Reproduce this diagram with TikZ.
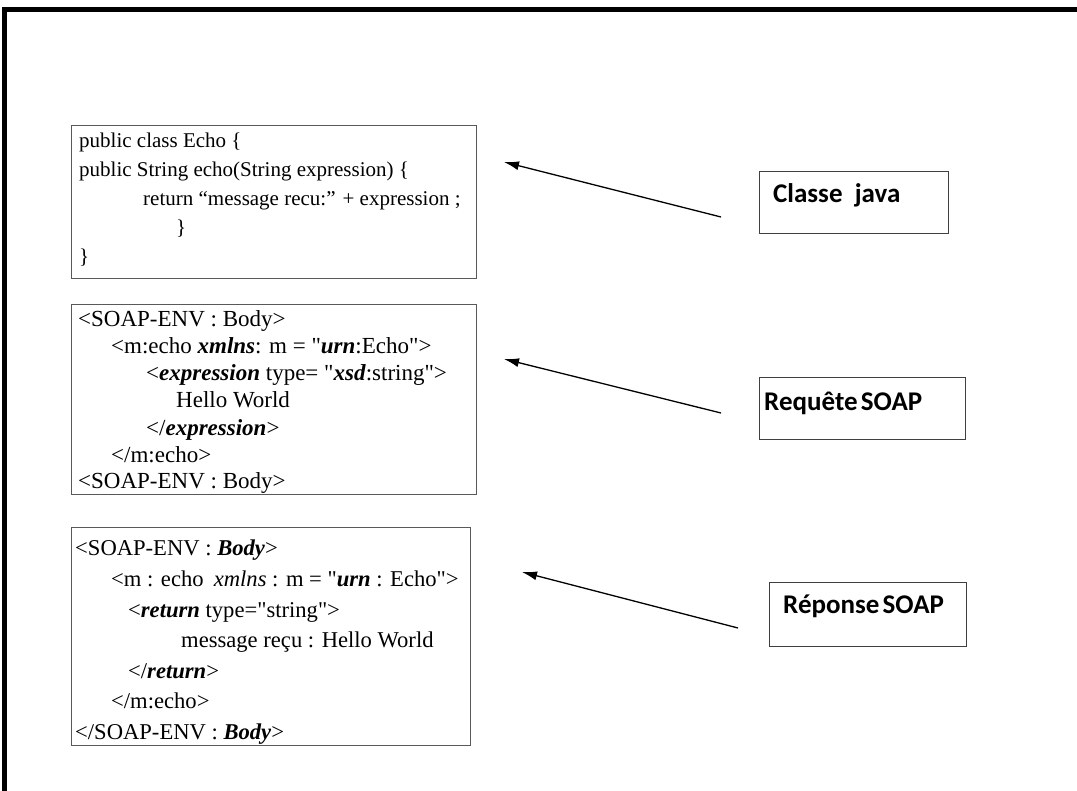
\documentclass[tikz,border=0pt]{standalone}
\usepackage{fontspec}
\setmainfont{Liberation Serif}[Ligatures=TeXOff]
\newfontfamily\labfont{Carlito}
\usetikzlibrary{arrows.meta}
\tikzset{
  codebox/.style={draw=black!65, line width=1.4pt, anchor=north west, inner sep=0pt, rectangle},
  labbox/.style={draw=black!75, line width=1pt, anchor=north west, inner sep=0pt, rectangle},
  codeA/.style={anchor=base west, inner sep=0pt, font=\fontsize{21}{25}\selectfont},
  codeB/.style={anchor=base west, inner sep=0pt, font=\fontsize{23}{27}\selectfont},
  codeC/.style={anchor=base west, inner sep=0pt, font=\fontsize{22.6}{27}\selectfont},
  labtext/.style={anchor=base west, inner sep=0pt, font=\labfont\bfseries\fontsize{27}{32}\selectfont},
  arr/.style={line width=1.3pt, -{Latex[length=15pt,width=9pt]}},
  frameline/.style={line width=4.5pt, line join=miter}
}
\newcommand{\bi}[1]{\textbf{\textit{#1}}}
\newcommand{\qq}{"}
\begin{document}
\begin{tikzpicture}[x=1pt,y=-1pt]
\useasboundingbox (0,0) rectangle (1077,791);
\clip (0,0) rectangle (1077,791);
\fill[white] (0,0) rectangle (1077,791);
% outer frame
\draw[frameline] (1100,9.5) -- (4.5,9.5) -- (4.5,820);

% code box 1
\node[codebox, minimum width=405pt, minimum height=153pt] (java) at (71,125) {};
\node[codeA] (j1) at (79,148) {public class Echo \{};
\node[codeA] (j2) at (79,177) {public String echo(String expression) \{};
\node[codeA] (j3) at (143,206) {return “message recu:” + expression ;};
\node[codeA] (j4) at (176,235) {\}};
\node[codeA] (j5) at (79,264) {\}};

% code box 2
\node[codebox, minimum width=405pt, minimum height=190pt] (req) at (71,304) {};
\node[codeB] (r1) at (78,327) {<SOAP-ENV : Body>};
\node[codeB] (r2) at (111,354) {<m:echo \bi{xmlns}: m = \qq\bi{urn}:Echo\qq>};
\node[codeB] (r3) at (146,381) {<\bi{expression} type= \qq\bi{xsd}:string\qq>};
\node[codeB] (r4) at (176,408) {Hello World};
\node[codeB] (r5) at (146,436) {</\bi{expression}>};
\node[codeB] (r6) at (111,463) {</m:echo>};
\node[codeB] (r7) at (78,489) {<SOAP-ENV : Body>};

% code box 3
\node[codebox, minimum width=399pt, minimum height=218pt] (rep) at (71,527) {};
\node[codeC] (p1) at (75,555) {<SOAP-ENV : \bi{Body}>};
\node[codeC] (p2) at (111,586) {<m : echo\hspace{0.2em} \textit{xmlns} : m = \qq\bi{urn} : Echo\qq>};
\node[codeC] (p3) at (128,617) {<\bi{return} type=\qq string\qq>};
\node[codeC] (p4) at (181,647) {message reçu : Hello World};
\node[codeC] (p5) at (128,678) {</\bi{return}>};
\node[codeC] (p6) at (111,708) {</m:echo>};
\node[codeC] (p7) at (75,739) {</SOAP-ENV : \bi{Body}>};

% label boxes
\node[labbox, minimum width=189pt, minimum height=62pt] (lj) at (759,171) {};
\node[labtext] (ljt) at (773,203) {Classe\ \ java};
\node[labbox, minimum width=206pt, minimum height=62pt] (lq) at (759,377) {};
\node[labtext] (lqt) at (764,411) {Requête\hspace{0.12em}SOAP};
\node[labbox, minimum width=197pt, minimum height=64pt] (lp) at (769,582) {};
\node[labtext] (lpt) at (783,613) {Réponse\hspace{0.12em}SOAP};

% arrows
\coordinate (t1) at (721,217);
\coordinate (h1) at (504,162);
\coordinate (t2) at (721,413);
\coordinate (h2) at (504,359);
\coordinate (t3) at (738,628);
\coordinate (h3) at (522,572);
\draw[arr] (t1) -- (h1);
\draw[arr] (t2) -- (h2);
\draw[arr] (t3) -- (h3);
\end{tikzpicture}
\end{document}
